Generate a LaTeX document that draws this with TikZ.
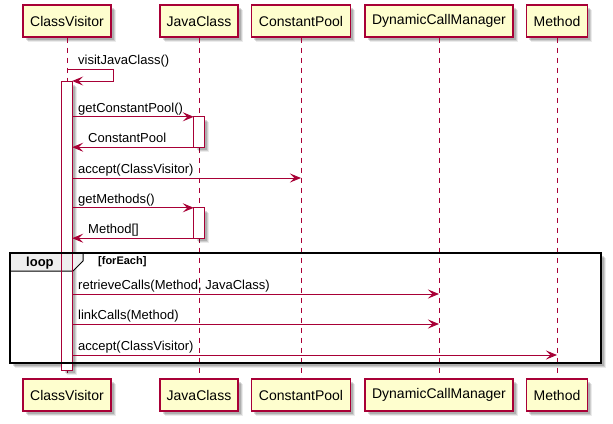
\documentclass[tikz,border=0pt]{standalone}
\usepackage{fontspec}
\setmainfont{Liberation Sans}
\usetikzlibrary{arrows.meta,shadows}
\definecolor{umlred}{HTML}{A80036}
\definecolor{umlfill}{HTML}{FEFECE}
\definecolor{loophead}{HTML}{EEEEEE}
\begin{document}
\begin{tikzpicture}[x=1pt,y=-1pt,
  shad/.style={drop shadow={shadow xshift=4.5pt,shadow yshift=-4.5pt,fill=black,opacity=.08},
               drop shadow={shadow xshift=3.5pt,shadow yshift=-3.5pt,fill=black,opacity=.12},
               drop shadow={shadow xshift=2.5pt,shadow yshift=-2.5pt,fill=black,opacity=.15}},
  part/.style={draw=umlred,fill=umlfill,line width=1.2pt,minimum height=32pt,inner sep=0pt,
    font=\fontsize{14}{16}\selectfont,shad},
  life/.style={draw=umlred,line width=0.8pt,dash pattern=on 5pt off 5pt},
  msg/.style={draw=umlred,line width=1pt,-{Stealth[length=11pt,width=9pt,inset=4.5pt]}},
  lbl/.style={anchor=base west,inner sep=0pt,font=\fontsize{13}{15}\selectfont},
  barfill/.style={fill=white,minimum width=10pt,inner sep=0pt,shad},
  barline/.style={draw=umlred,line width=1pt},
  framebg/.style={fill=white,inner sep=0pt,minimum width=591pt,minimum height=110pt,shad},
  frameline/.style={draw=black,line width=1.5pt},
  headtxt/.style={anchor=base west,inner sep=0pt,font=\bfseries\fontsize{13}{15}\selectfont},
  condtxt/.style={anchor=base west,inner sep=0pt,font=\bfseries\fontsize{11}{13}\selectfont}
]
\useasboundingbox (0,0) rectangle (613,423);

% loop frame background
\node[framebg] (frame) at (305.5,308) {};

% participants
\node[part,minimum width=88pt]  (cvT)  at (67,21)  {ClassVisitor};
\node[part,minimum width=78pt]  (jcT)  at (199,21) {JavaClass};
\node[part,minimum width=99pt]  (cpT)  at (301,21) {ConstantPool};
\node[part,minimum width=148pt] (dcT)  at (439,21) {DynamicCallManager};
\node[part,minimum width=61pt]  (meT)  at (557,21) {Method};
\node[part,minimum width=88pt]  (cvB)  at (67,395)  {ClassVisitor};
\node[part,minimum width=78pt]  (jcB)  at (199,395) {JavaClass};
\node[part,minimum width=99pt]  (cpB)  at (301,395) {ConstantPool};
\node[part,minimum width=148pt] (dcB)  at (439,395) {DynamicCallManager};
\node[part,minimum width=61pt]  (meB)  at (557,395) {Method};

% lifelines
\draw[life] (cvT.south) -- (cvB.north);
\draw[life] (jcT.south) -- (jcB.north);
\draw[life] (cpT.south) -- (cpB.north);
\draw[life] (dcT.south) -- (dcB.north);
\draw[life] (meT.south) -- (meB.north);

% activation bars (fill)
\node[barfill,minimum height=288pt] (cvA) at (67,226) {};
\node[barfill,minimum height=30pt] (jcA1) at (199,132) {};
\node[barfill,minimum height=30pt] (jcA2) at (199,223) {};

% loop header
\draw[fill=loophead,draw=black,line width=1pt] (10,253) -- (83,253) -- (83,261) -- (73,271) -- (10,271) -- cycle;

% activation bar outlines
\draw[barline] (cvA.north west) rectangle (cvA.south east);
\draw[barline] (jcA1.north west) rectangle (jcA1.south east);
\draw[barline] (jcA2.north west) rectangle (jcA2.south east);

% loop frame outline
\draw[frameline] (frame.north west) rectangle (frame.south east);
\node[headtxt] (looplbl) at (26,266) {loop};
\node[condtxt] (condlbl) at (98,264.5) {[forEach]};

% messages
\coordinate (s1) at (67,69);
\coordinate (s2) at (113,69);
\coordinate (s3) at (113,81);
\draw[msg] (s1) -- (s2) -- (s3) -- (cvA.east |- s3);
\node[lbl] (t1) at (78,64) {visitJavaClass()};

\draw[msg] (cvA.east |- jcA1.north west) -- (jcA1.north west);
\node[lbl] (t2) at (78,112) {getConstantPool()};
\draw[msg] (jcA1.south west) -- (cvA.east |- jcA1.south west);
\node[lbl] (t3) at (88,142.5) {ConstantPool};

\coordinate (m4) at (301,178);
\draw[msg] (cvA.east |- m4) -- (m4);
\node[lbl] (t4) at (78,173) {accept(ClassVisitor)};

\draw[msg] (cvA.east |- jcA2.north west) -- (jcA2.north west);
\node[lbl] (t5) at (78,203) {getMethods()};
\draw[msg] (jcA2.south west) -- (cvA.east |- jcA2.south west);
\node[lbl] (t6) at (88,233.5) {Method[]};

\coordinate (m7) at (439,294);
\draw[msg] (cvA.east |- m7) -- (m7);
\node[lbl] (t7) at (78,289) {retrieveCalls(Method, JavaClass)};

\coordinate (m8) at (439,324);
\draw[msg] (cvA.east |- m8) -- (m8);
\node[lbl] (t8) at (78,319) {linkCalls(Method)};

\coordinate (m9) at (557,355);
\draw[msg] (cvA.east |- m9) -- (m9);
\node[lbl] (t9) at (78,350) {accept(ClassVisitor)};
\end{tikzpicture}
\end{document}
